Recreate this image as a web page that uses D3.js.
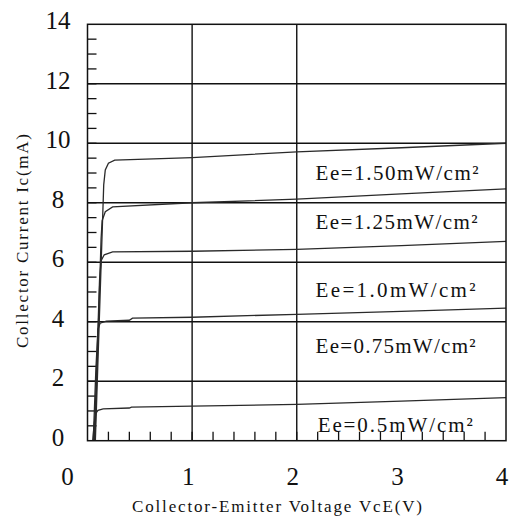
<!DOCTYPE html>
<html>
<head>
<meta charset="utf-8">
<script src="https://cdn.jsdelivr.net/npm/d3@7"></script>
<style>
  body { margin: 0; background: #fff; }
</style>
</head>
<body>
<svg width="510" height="520"></svg>
<script>
// Ic-VcE curves, [VcE (V), Ic (mA)]
const ee050 = [[0.05,0],[0.065,0.6],[0.08,0.92],[0.1,1.02],[0.15,1.07],[0.4,1.1],[0.42,1.13],[1,1.16],[2,1.22],[3,1.33],[4,1.45]];
const ee075 = [[0.055,0],[0.08,2.4],[0.1,3.75],[0.12,3.95],[0.18,4.02],[0.4,4.05],[0.43,4.12],[1,4.15],[2,4.25],[3,4.35],[4,4.46]];
const ee100 = [[0.065,0],[0.115,5.4],[0.13,6.05],[0.16,6.25],[0.24,6.35],[1,6.37],[2,6.43],[3,6.56],[4,6.7]];
const ee125 = [[0.07,0],[0.13,6.8],[0.14,7.4],[0.17,7.7],[0.24,7.86],[1,8.0],[2,8.12],[3,8.3],[4,8.47]];
const ee150 = [[0.075,0],[0.155,8.6],[0.17,9.1],[0.2,9.33],[0.26,9.43],[1,9.52],[2,9.71],[3,9.85],[4,10.0]];

const curves = [ee050, ee075, ee100, ee125, ee150];
const labelText = ["Ee=0.5mW/cm²", "Ee=0.75mW/cm²", "Ee=1.0mW/cm²", "Ee=1.25mW/cm²", "Ee=1.50mW/cm²"];
const labelAt = [[2.2, 0.29], [2.18, 2.95], [2.18, 4.83], [2.18, 7.12], [2.18, 8.77]];
const labelLen = [155, 160, 160, 162, 163];

const xTicks = [0, 1, 2, 3, 4];
const yTicks = [0, 2, 4, 6, 8, 10, 12, 14];

let svg = d3.select('svg');
const serif = "'Liberation Serif', 'Times New Roman', serif";

const x = d3.scaleLinear().domain([0, 4]).range([87.5, 506]);
const y = d3.scaleLinear().domain([0, 14]).range([440.7, 24.3]);

// minor ticks, inward
svg.append('g')
  .selectAll('line')
  .data(d3.range(1, 28).map(d => d * 0.5))
  .enter()
  .append('line')
  .attr('x1', x(0)).attr('x2', x(0) + 9)
  .attr('y1', d => y(d)).attr('y2', d => y(d))
  .attr('stroke', '#111').attr('stroke-width', 1.3);

svg.append('g')
  .selectAll('line')
  .data(d3.range(1, 20).map(d => d * 0.2))
  .enter()
  .append('line')
  .attr('x1', d => x(d)).attr('x2', d => x(d))
  .attr('y1', y(0)).attr('y2', y(0) - 9)
  .attr('stroke', '#111').attr('stroke-width', 1.3);

// grid
svg.append('g')
  .selectAll('line')
  .data([2, 4, 6, 8, 10, 12])
  .enter()
  .append('line')
  .attr('x1', x(0)).attr('x2', x(4))
  .attr('y1', d => y(d)).attr('y2', d => y(d))
  .attr('stroke', '#111').attr('stroke-width', 1.4);

svg.append('g')
  .selectAll('line')
  .data([1, 2])
  .enter()
  .append('line')
  .attr('x1', d => x(d)).attr('x2', d => x(d))
  .attr('y1', y(0)).attr('y2', y(14))
  .attr('stroke', '#111').attr('stroke-width', 1.4);

// curves
const line = d3.line().x(d => x(d[0])).y(d => y(d[1]));
svg.append('g')
  .selectAll('path')
  .data(curves)
  .enter()
  .append('path')
  .attr('d', line)
  .attr('fill', 'none')
  .attr('stroke', '#2a2a2a')
  .attr('stroke-width', 1.3);

// frame
svg.append('rect')
  .attr('x', x(0)).attr('y', y(14))
  .attr('width', x(4) - x(0)).attr('height', y(0) - y(14))
  .attr('fill', 'none').attr('stroke', '#111').attr('stroke-width', 1.5);

// tick labels
svg.append('g')
  .selectAll('text')
  .data(yTicks)
  .enter()
  .append('text')
  .attr('x', 58)
  .attr('y', d => y(d) + 5)
  .attr('text-anchor', 'middle')
  .attr('font-family', serif)
  .attr('font-size', 25)
  .attr('fill', '#111')
  .text(d => d);

svg.append('g')
  .selectAll('text')
  .data(xTicks)
  .enter()
  .append('text')
  .attr('x', d => x(d) + (d === 0 ? -20 : -4))
  .attr('y', 485)
  .attr('text-anchor', 'middle')
  .attr('font-family', serif)
  .attr('font-size', 25)
  .attr('fill', '#111')
  .text(d => d);

// curve labels
svg.append('g')
  .selectAll('text')
  .data(labelText)
  .enter()
  .append('text')
  .attr('x', (d, i) => x(labelAt[i][0]))
  .attr('y', (d, i) => y(labelAt[i][1]))
  .attr('font-family', serif)
  .attr('font-size', 21)
  .attr('textLength', (d, i) => labelLen[i])
  .attr('lengthAdjust', 'spacing')
  .attr('fill', '#111')
  .text(d => d);

// axis titles
svg.append('text')
  .attr('x', 277).attr('y', 512)
  .attr('text-anchor', 'middle')
  .attr('font-family', serif)
  .attr('font-size', 17)
  .attr('textLength', 290)
  .attr('lengthAdjust', 'spacing')
  .attr('fill', '#111')
  .text('Collector-Emitter Voltage VcE(V)');

svg.append('text')
  .attr('transform', 'translate(28,241) rotate(-90)')
  .attr('text-anchor', 'middle')
  .attr('font-family', serif)
  .attr('font-size', 17)
  .attr('textLength', 214)
  .attr('lengthAdjust', 'spacing')
  .attr('fill', '#111')
  .text('Collector Current Ic(mA)');
</script>
</body>
</html>
